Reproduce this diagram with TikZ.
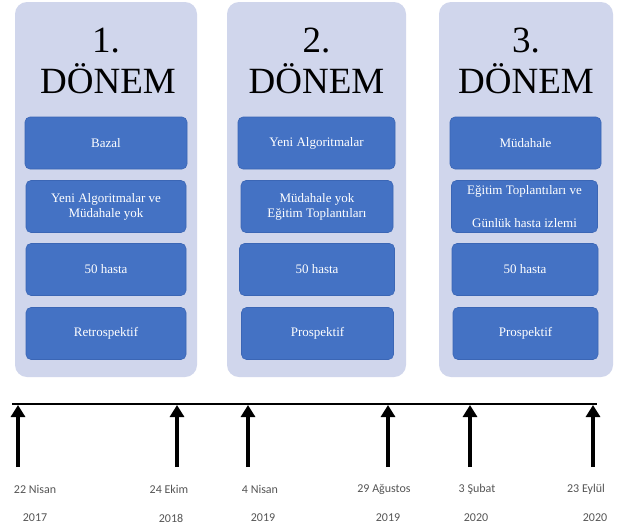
\documentclass[tikz,border=0pt]{standalone}
\usepackage{fontspec}
\setmainfont{Liberation Serif}
\newfontfamily\datefont{Carlito}
\newfontfamily\boxfont{Liberation Serif}
\usetikzlibrary{arrows.meta}
\definecolor{outerfill}{HTML}{D0D6EC}
\definecolor{innerfill}{HTML}{4472C4}
\definecolor{innerdraw}{HTML}{3B66B5}
\definecolor{dategray}{HTML}{555555}
\tikzset{
  period/.style={draw=none, fill=outerfill, rounded corners=12pt, minimum height=375pt, inner sep=0pt},
  stage/.style={draw=innerdraw, line width=0.6pt, fill=innerfill, rounded corners=5pt, minimum height=52pt, inner sep=1pt, text=white, font=\boxfont\fontsize{13}{15}\selectfont, align=center},
  title/.style={anchor=base, font=\fontsize{37}{40}\selectfont, text=black, inner sep=0pt},
  datelbl/.style={font=\datefont\fontsize{12}{14}\selectfont, text=dategray, inner sep=0pt},
  evt/.style={line width=4pt, -{Triangle[width=14pt,length=12pt]}},
}
\begin{document}
\begin{tikzpicture}[x=1pt,y=-1pt]
\useasboundingbox[fill=white] (0,0) rectangle (623,528);
% period panels
\node[period, minimum width=182pt] (p1) at (106,189.5) {};
\node[period, minimum width=179pt] (p2) at (316.5,189.5) {};
\node[period, minimum width=174pt] (p3) at (526,189.5) {};
% titles
\node[title] (t1a) at (106,52) {1.};
\node[title] (t1b) at (108,93) {DÖNEM};
\node[title] (t2a) at (316.5,52) {2.};
\node[title] (t2b) at (316.5,93) {DÖNEM};
\node[title] (t3a) at (526,52) {3.};
\node[title] (t3b) at (526,93) {DÖNEM};
% column 1
\node[stage, minimum width=162pt] (a1) at (106,143) {Bazal};
\node[stage, minimum width=160pt] (a2) at (106,206.5) {Yeni Algoritmalar ve\\Müdahale yok};
\node[stage, minimum width=160pt] (a3) at (106,269.5) {50 hasta};
\node[stage, minimum width=160pt] (a4) at (106,333.5) {Retrospektif};
% column 2
\node[stage, minimum width=157pt] (b1) at (316.5,143) {Yeni Algoritmalar};
\node[stage, minimum width=152pt] (b2) at (317,206.5) {Müdahale yok\\Eğitim Toplantıları};
\node[stage, minimum width=155pt] (b3) at (317,269.5) {50 hasta};
\node[stage, minimum width=152pt] (b4) at (317.5,333.5) {Prospektif};
% column 3
\node[stage, minimum width=151pt] (c1) at (525.5,143) {Müdahale};
\node[stage, minimum width=146pt, font=\boxfont\fontsize{13}{33}\selectfont] (c2) at (524.5,206.5) {Eğitim Toplantıları ve\\Günlük hasta izlemi};
\node[stage, minimum width=146pt] (c3) at (525,269.5) {50 hasta};
\node[stage, minimum width=145pt] (c4) at (525.5,333.5) {Prospektif};
% timeline
\coordinate (tl) at (12,404);
\coordinate (tr) at (597,404);
\draw[line width=2.6pt] (tl) -- (tr);
\foreach \n/\x in {e1/18, e2/177, e3/248, e4/388, e5/470, e6/593}{
  \coordinate (\n b) at (\x,467);
  \coordinate (\n t) at (\x,405);
  \draw[evt] (\n b) -- (\n t);
}
% dates
\node[datelbl] (d1) at (35,489) {22 Nisan};
\node[datelbl] (y1) at (35,518) {2017};
\node[datelbl] (d2) at (169,489) {24 Ekim};
\node[datelbl] (y2) at (171,518) {2018};
\node[datelbl] (d3) at (260,489) {4 Nisan};
\node[datelbl] (y3) at (263,518) {2019};
\node[datelbl] (d4) at (384,489) {29 Ağustos};
\node[datelbl] (y4) at (388,518) {2019};
\node[datelbl] (d5) at (477,489) {3 Şubat};
\node[datelbl] (y5) at (476,518) {2020};
\node[datelbl] (d6) at (586,489) {23 Eylül};
\node[datelbl] (y6) at (595,518) {2020};
\end{tikzpicture}
\end{document}
